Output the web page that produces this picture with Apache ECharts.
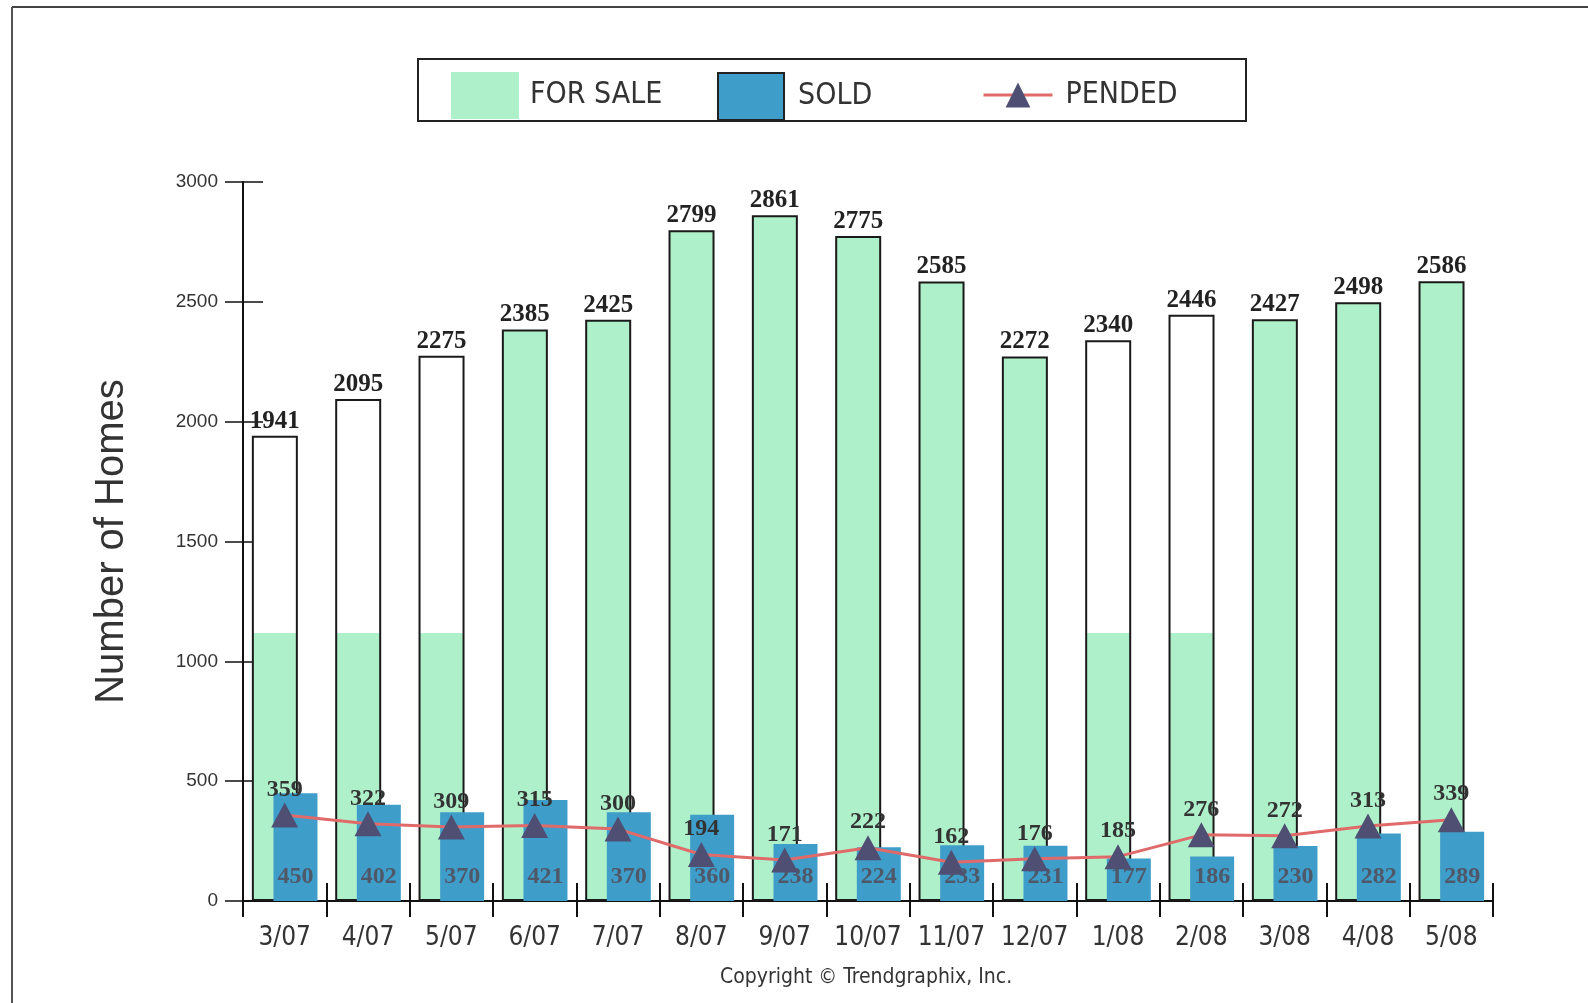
<!DOCTYPE html>
<html>
<head>
<meta charset="utf-8">
<script src="https://cdn.jsdelivr.net/npm/echarts@6/dist/echarts.min.js"></script>
<style>
html,body{margin:0;padding:0;background:#fff;overflow:hidden;}
#chart{width:1588px;height:1003px;}
</style>
</head>
<body>
<div id="chart"></div>
<script>
var categories = ['3/07','4/07','5/07','6/07','7/07','8/07','9/07','10/07','11/07','12/07','1/08','2/08','3/08','4/08','5/08'];
var forSale = [1941,2095,2275,2385,2425,2799,2861,2775,2585,2272,2340,2446,2427,2498,2586];
var sold = [450,402,370,421,370,360,238,224,233,231,177,186,230,282,289];
var pended = [359,322,309,315,300,194,171,222,162,176,185,276,272,313,339];
var yTicks = [0,500,1000,1500,2000,2500,3000];
// scan artifact: these bars only show green fill up to this level
var fadedBars = [0,1,2,10,11];
var fadeLevel = 1120;

var GREEN = '#aef0c9', BLUE = '#3f9dca', LINE = '#e06a6a', TRI = '#4e4f72';
var NARROW = "'DejaVu Sans Condensed','Liberation Sans Narrow','Arial Narrow','Liberation Sans',Arial,sans-serif";
var SERIF = "'Liberation Serif','Times New Roman',serif";

var forSaleData = forSale.map(function (v, i) {
  if (fadedBars.indexOf(i) >= 0) {
    var s = 1 - fadeLevel / v;
    return {value: v, itemStyle: {color: {type: 'linear', x: 0, y: 0, x2: 0, y2: 1, colorStops: [
      {offset: 0, color: '#ffffff'}, {offset: s, color: '#ffffff'},
      {offset: s, color: GREEN}, {offset: 1, color: GREEN}]}}};
  }
  return v;
});

var chart = echarts.init(document.getElementById('chart'));
chart.setOption({
  animation: false,
  backgroundColor: '#fff',
  grid: {left: 243, right: 95, top: 182, bottom: 102},
  legend: [
    {data: [{name: 'FOR SALE', icon: 'rect', itemStyle: {borderWidth: 0}}], left: 446, top: 67, itemWidth: 68, itemHeight: 47,
     textStyle: {fontSize: 30, color: '#333', fontFamily: NARROW, padding: [0, 0, 0, 6]}},
    {data: [{name: 'SOLD', icon: 'rect', itemStyle: {borderColor: '#222', borderWidth: 2}}], left: 712, top: 67, itemWidth: 66, itemHeight: 47,
     textStyle: {fontSize: 30, color: '#333', fontFamily: NARROW, padding: [0, 0, 0, 9]}},
    {data: [{name: 'PENDED', lineStyle: {width: 3, color: LINE}}], left: 977, top: 75, itemWidth: 69, itemHeight: 31,
     textStyle: {fontSize: 30, color: '#333', fontFamily: NARROW, padding: [0, 0, 0, 8]}}
  ],
  xAxis: [
    {type: 'category', data: categories, boundaryGap: true,
     axisLine: {lineStyle: {color: '#111', width: 2}},
     axisTick: {show: true, length: 16, lineStyle: {color: '#111', width: 2}},
     axisLabel: {interval: 0, fontSize: 26, color: '#333', fontFamily: NARROW, margin: 24}},
    {type: 'category', data: categories, position: 'bottom', boundaryGap: true,
     axisLine: {show: false}, axisLabel: {show: false},
     axisTick: {show: true, inside: true, length: 18, lineStyle: {color: '#111', width: 2}}}
  ],
  yAxis: [
    {type: 'value', min: 0, max: 3000, interval: 500,
     name: 'Number of Homes', nameLocation: 'middle', nameGap: 111, nameRotate: 90,
     nameTextStyle: {fontSize: 40, color: '#333', fontFamily: "'Liberation Sans',Arial,sans-serif"},
     axisLine: {show: true, lineStyle: {color: '#111', width: 2}},
     axisTick: {show: true, length: 18, lineStyle: {color: '#111', width: 1.5}},
     axisLabel: {fontSize: 19, color: '#333', fontFamily: "'Liberation Sans',Arial,sans-serif", margin: 25,
       formatter: function (v) { return yTicks.indexOf(v) >= 0 ? String(v) : ''; }},
     splitLine: {show: false}},
    {type: 'value', min: 0, max: 3000, interval: 500, position: 'left',
     axisLine: {show: false}, axisLabel: {show: false}, splitLine: {show: false},
     axisTick: {show: true, inside: true, length: 20, lineStyle: {color: '#111', width: 1.5}}}
  ],
  series: [
    {name: 'FOR SALE', type: 'bar', data: forSaleData, barWidth: 46, barGap: '-53%',
     itemStyle: {color: GREEN, borderColor: '#1a1a1a', borderWidth: 2},
     label: {show: true, position: 'top', distance: 2, fontSize: 25, fontWeight: 'bold', color: '#222', fontFamily: SERIF},
     z: 2},
    {name: 'SOLD', type: 'bar', data: sold, barWidth: 44, barGap: '-53%',
     itemStyle: {color: BLUE},
     label: {show: true, position: 'insideBottom', distance: 12, fontSize: 24, fontWeight: 'bold', color: '#4f5868', fontFamily: SERIF},
     z: 3},
    {name: 'PENDED', type: 'line', data: pended, symbol: 'triangle', symbolSize: [27, 25],
     lineStyle: {color: LINE, width: 3}, itemStyle: {color: TRI},
     label: {show: true, position: 'top', distance: 1, fontSize: 24, fontWeight: 'bold', color: '#333', fontFamily: SERIF},
     z: 5}
  ],
  graphic: [
    {type: 'rect', shape: {x: 418, y: 59, width: 828, height: 62}, style: {fill: 'none', stroke: '#222', lineWidth: 2}, silent: true, z: 0},
    {type: 'line', shape: {x1: 12, y1: 7, x2: 1588, y2: 7}, style: {stroke: '#444', lineWidth: 2}, silent: true},
    {type: 'line', shape: {x1: 12, y1: 7, x2: 12, y2: 1003}, style: {stroke: '#555', lineWidth: 2}, silent: true},
    {type: 'text', left: 720, top: 967, style: {text: 'Copyright \u00A9 Trendgraphix, Inc.', fontSize: 21, fill: '#333', fontFamily: NARROW}, silent: true}
  ]
});
</script>
</body>
</html>
